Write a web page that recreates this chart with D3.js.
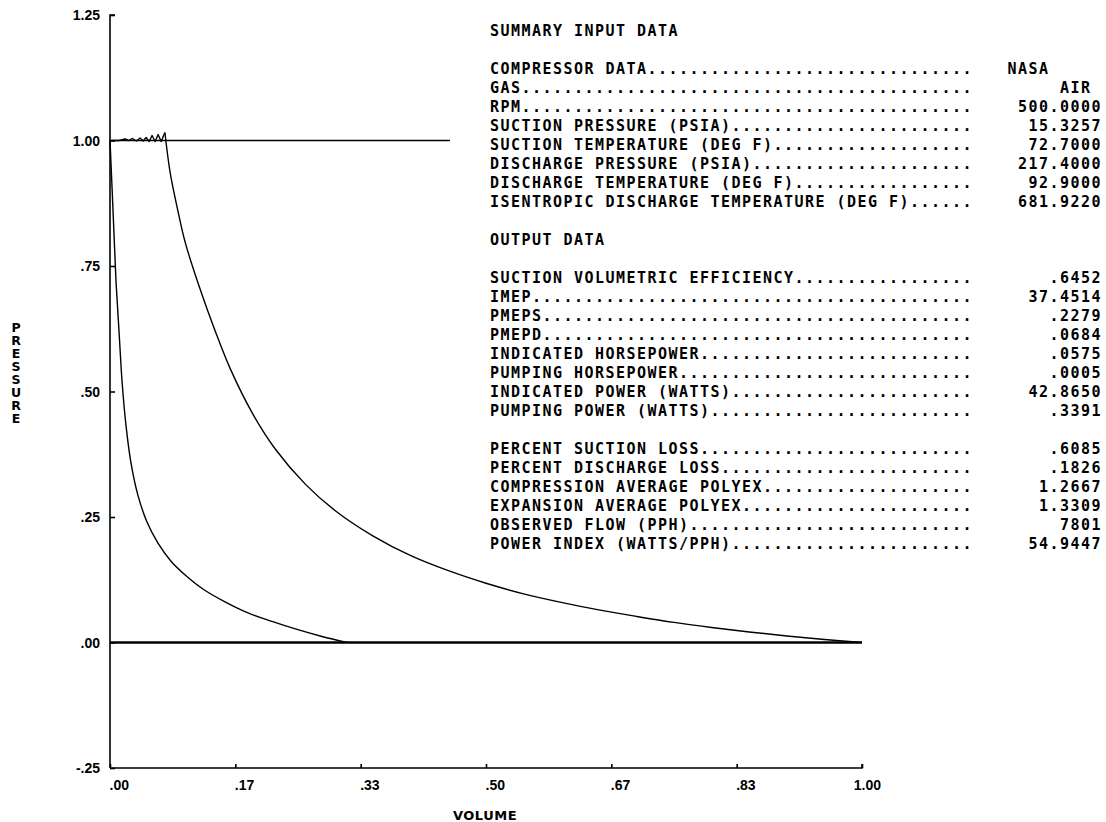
<!DOCTYPE html>
<html>
<head>
<meta charset="utf-8">
<script src="https://cdn.jsdelivr.net/npm/d3@7"></script>
<style>
  body { margin: 0; background: #fff; }
  svg { display: block; }
</style>
</head>
<body>
<div class="chart"></div>
<script>
// Axis ticks
const yTicks = [1.25, 1.00, 0.75, 0.50, 0.25, 0.00, -0.25]
const yTickLabels = ["1.25", "1.00", ".75", ".50", ".25", ".00", "-.25"]
const xTicks = [0, 1/6, 2/6, 3/6, 4/6, 5/6, 1]
const xTickLabels = [".00", ".17", ".33", ".50", ".67", ".83", "1.00"]

// Expansion curve (volume, pressure)
const expVol = [0.000, 0.0027, 0.0053, 0.0080, 0.0120, 0.0160, 0.0213, 0.0279, 0.0372, 0.0492, 0.0638, 0.0811,
  0.1011, 0.1250, 0.1529, 0.1835, 0.2154, 0.2487, 0.2819, 0.3152]
const expPres = [1.000, 0.907, 0.814, 0.719, 0.620, 0.521, 0.432, 0.358, 0.293, 0.240, 0.198, 0.162,
  0.133, 0.105, 0.081, 0.059, 0.042, 0.026, 0.012, 0.000]

// Compression curve
const compVol = [1.000, 0.950, 0.900, 0.850, 0.800, 0.750, 0.700, 0.650, 0.600, 0.550, 0.500, 0.450, 0.400, 0.350, 0.300, 0.260, 0.220, 0.190, 0.160, 0.140, 0.120, 0.100, 0.090, 0.080, 0.073]
const compPres = [0.000, 0.006, 0.013, 0.021, 0.030, 0.040, 0.052, 0.065, 0.080, 0.097, 0.118, 0.143, 0.173, 0.212, 0.262, 0.315, 0.385, 0.455, 0.545, 0.620, 0.703, 0.797, 0.862, 0.936, 1.016]

// Discharge line with valve ripple
const disVol = [0.073, 0.068, 0.064, 0.060, 0.056, 0.052, 0.048, 0.044, 0.040, 0.035, 0.030, 0.025, 0.020, 0.012, 0.000]
const disPres = [1.016, 0.998, 1.012, 0.998, 1.010, 0.998, 1.006, 0.999, 1.005, 0.999, 1.004, 1.000, 1.003, 1.000, 1.000]

// Reference lines
const refTopEnd = 0.452
const refBaseEnd = 1.0

// Text block
const inputTitle = "SUMMARY INPUT DATA"
const inputLabels = ["COMPRESSOR DATA", "GAS", "RPM", "SUCTION PRESSURE (PSIA)", "SUCTION TEMPERATURE (DEG F)",
  "DISCHARGE PRESSURE (PSIA)", "DISCHARGE TEMPERATURE (DEG F)", "ISENTROPIC DISCHARGE TEMPERATURE (DEG F)"]
const inputValues = ["NASA     ", "AIR ", "500.0000", "15.3257", "72.7000", "217.4000", "92.9000", "681.9220"]
const outputTitle = "OUTPUT DATA"
const outputLabels1 = ["SUCTION VOLUMETRIC EFFICIENCY", "IMEP", "PMEPS", "PMEPD", "INDICATED HORSEPOWER",
  "PUMPING HORSEPOWER", "INDICATED POWER (WATTS)", "PUMPING POWER (WATTS)"]
const outputValues1 = [".6452", "37.4514", ".2279", ".0684", ".0575", ".0005", "42.8650", ".3391"]
const outputLabels2 = ["PERCENT SUCTION LOSS", "PERCENT DISCHARGE LOSS", "COMPRESSION AVERAGE POLYEX",
  "EXPANSION AVERAGE POLYEX", "OBSERVED FLOW (PPH)", "POWER INDEX (WATTS/PPH)"]
const outputValues2 = [".6085", ".1826", "1.2667", "1.3309", "7801", "54.9447"]

const draw_chart = () => {
    const W = 1106, H = 822

    const svg = d3.select(".chart").append("svg")
        .attr("width", W)
        .attr("height", H)

    // Scales
    const xScale = d3.scaleLinear().domain([0, 1]).range([110, 862])
    const yScale = d3.scaleLinear().domain([-0.25, 1.25]).range([768, 15])

    const line = d3.line()
        .x(d => xScale(d[0]))
        .y(d => yScale(d[1]))
    const smooth = d3.line()
        .x(d => xScale(d[0]))
        .y(d => yScale(d[1]))
        .curve(d3.curveCatmullRom.alpha(0.5))

    // Y axis
    const yAxis = d3.axisRight(yScale)
        .tickValues(yTicks)
        .tickSize(5)
        .tickFormat("")
    const gy = svg.append("g")
        .attr("transform", `translate(${xScale(0)},0)`)
        .call(yAxis)
    gy.select(".domain").attr("d", `M5,${yScale(1.25)}H0V${yScale(-0.25)}`)
    gy.selectAll("path, line").attr("stroke", "#000").attr("stroke-width", 1.6)

    svg.append("g").selectAll("text")
        .data(yTicks)
        .enter()
        .append("text")
            .attr("x", 100)
            .attr("y", d => yScale(d) + 5)
            .attr("text-anchor", "end")
            .attr("font-family", "Liberation Sans, Arial, sans-serif")
            .attr("font-weight", "bold")
            .attr("font-size", 14)
            .text((d, i) => yTickLabels[i])

    // X axis
    const xAxis = d3.axisTop(xScale)
        .tickValues(xTicks)
        .tickSize(4)
        .tickFormat("")
    const gx = svg.append("g")
        .attr("transform", `translate(0,${yScale(-0.25)})`)
        .call(xAxis)
    gx.select(".domain").attr("d", `M${xScale(0)},0H${xScale(1)}V-4`)
    gx.selectAll("path, line").attr("stroke", "#000").attr("stroke-width", 1.6)

    svg.append("g").selectAll("text")
        .data(xTicks)
        .enter()
        .append("text")
            .attr("x", d => xScale(d) + 19)
            .attr("y", 790)
            .attr("text-anchor", "end")
            .attr("font-family", "Liberation Sans, Arial, sans-serif")
            .attr("font-weight", "bold")
            .attr("font-size", 14)
            .text((d, i) => xTickLabels[i])

    // Axis titles
    svg.append("text")
        .attr("x", 485)
        .attr("y", 820)
        .attr("text-anchor", "middle")
        .attr("font-family", "DejaVu Sans, sans-serif")
        .attr("font-weight", "bold")
        .attr("font-size", 13)
        .attr("letter-spacing", 0.5)
        .text("VOLUME")

    svg.append("g").selectAll("text")
        .data("PRESSURE".split(""))
        .enter()
        .append("text")
            .attr("x", 16)
            .attr("y", (_, i) => 332 + i * 13)
            .attr("text-anchor", "middle")
            .attr("font-family", "DejaVu Sans, sans-serif")
            .attr("font-weight", "bold")
            .attr("font-size", 12.5)
            .text(d => d)

    // Reference lines at p = 1 and p = 0
    svg.append("path")
        .attr("d", line([[0, 1], [refTopEnd, 1]]))
        .attr("fill", "none").attr("stroke", "#000").attr("stroke-width", 1.4)
    svg.append("path")
        .attr("d", line([[0, 0], [refBaseEnd, 0]]))
        .attr("fill", "none").attr("stroke", "#000").attr("stroke-width", 2.6)

    // P-V cycle: expansion, compression (smooth), discharge ripple (straight segments)
    const curveStyle = sel => sel
        .attr("fill", "none")
        .attr("stroke", "#000")
        .attr("stroke-width", 1.4)
        .attr("stroke-linejoin", "round")

    svg.append("path")
        .attr("d", smooth(expVol.map((v, i) => [v, expPres[i]])))
        .call(curveStyle)
    svg.append("path")
        .attr("d", smooth(compVol.map((v, i) => [v, compPres[i]])))
        .call(curveStyle)
    svg.append("path")
        .attr("d", line(disVol.map((v, i) => [v, disPres[i]])))
        .call(curveStyle)

    // Summary text block, monospaced grid
    const colW = 10.5, x0 = 490, valEnd = 1102, leaderCols = 46, fs = 15
    const rowY = r => 31 + r * 19 + 5

    const rows = []
    rows.push({r: 0, label: inputTitle})
    inputLabels.forEach((l, i) => rows.push({r: 2 + i, label: l, value: inputValues[i], lead: true}))
    rows.push({r: 11, label: outputTitle})
    outputLabels1.forEach((l, i) => rows.push({r: 13 + i, label: l, value: outputValues1[i], lead: true}))
    outputLabels2.forEach((l, i) => rows.push({r: 22 + i, label: l, value: outputValues2[i], lead: true}))

    const txt = svg.append("g")
        .attr("font-family", "DejaVu Sans Mono, monospace")
        .attr("font-size", fs)
        .attr("font-weight", "bold")
        .attr("letter-spacing", colW - 0.602 * fs)
        .style("white-space", "pre")

    txt.selectAll(".lab")
        .data(rows)
        .enter()
        .append("text")
            .attr("class", "lab")
            .attr("x", x0)
            .attr("y", d => rowY(d.r))
            .text(d => d.lead ? d.label + ".".repeat(Math.max(0, leaderCols - d.label.length)) : d.label)

    txt.selectAll(".val")
        .data(rows.filter(d => d.value))
        .enter()
        .append("text")
            .attr("class", "val")
            .attr("x", d => valEnd - d.value.length * colW)
            .attr("y", d => rowY(d.r))
            .text(d => d.value)
}

draw_chart()
</script>
</body>
</html>
